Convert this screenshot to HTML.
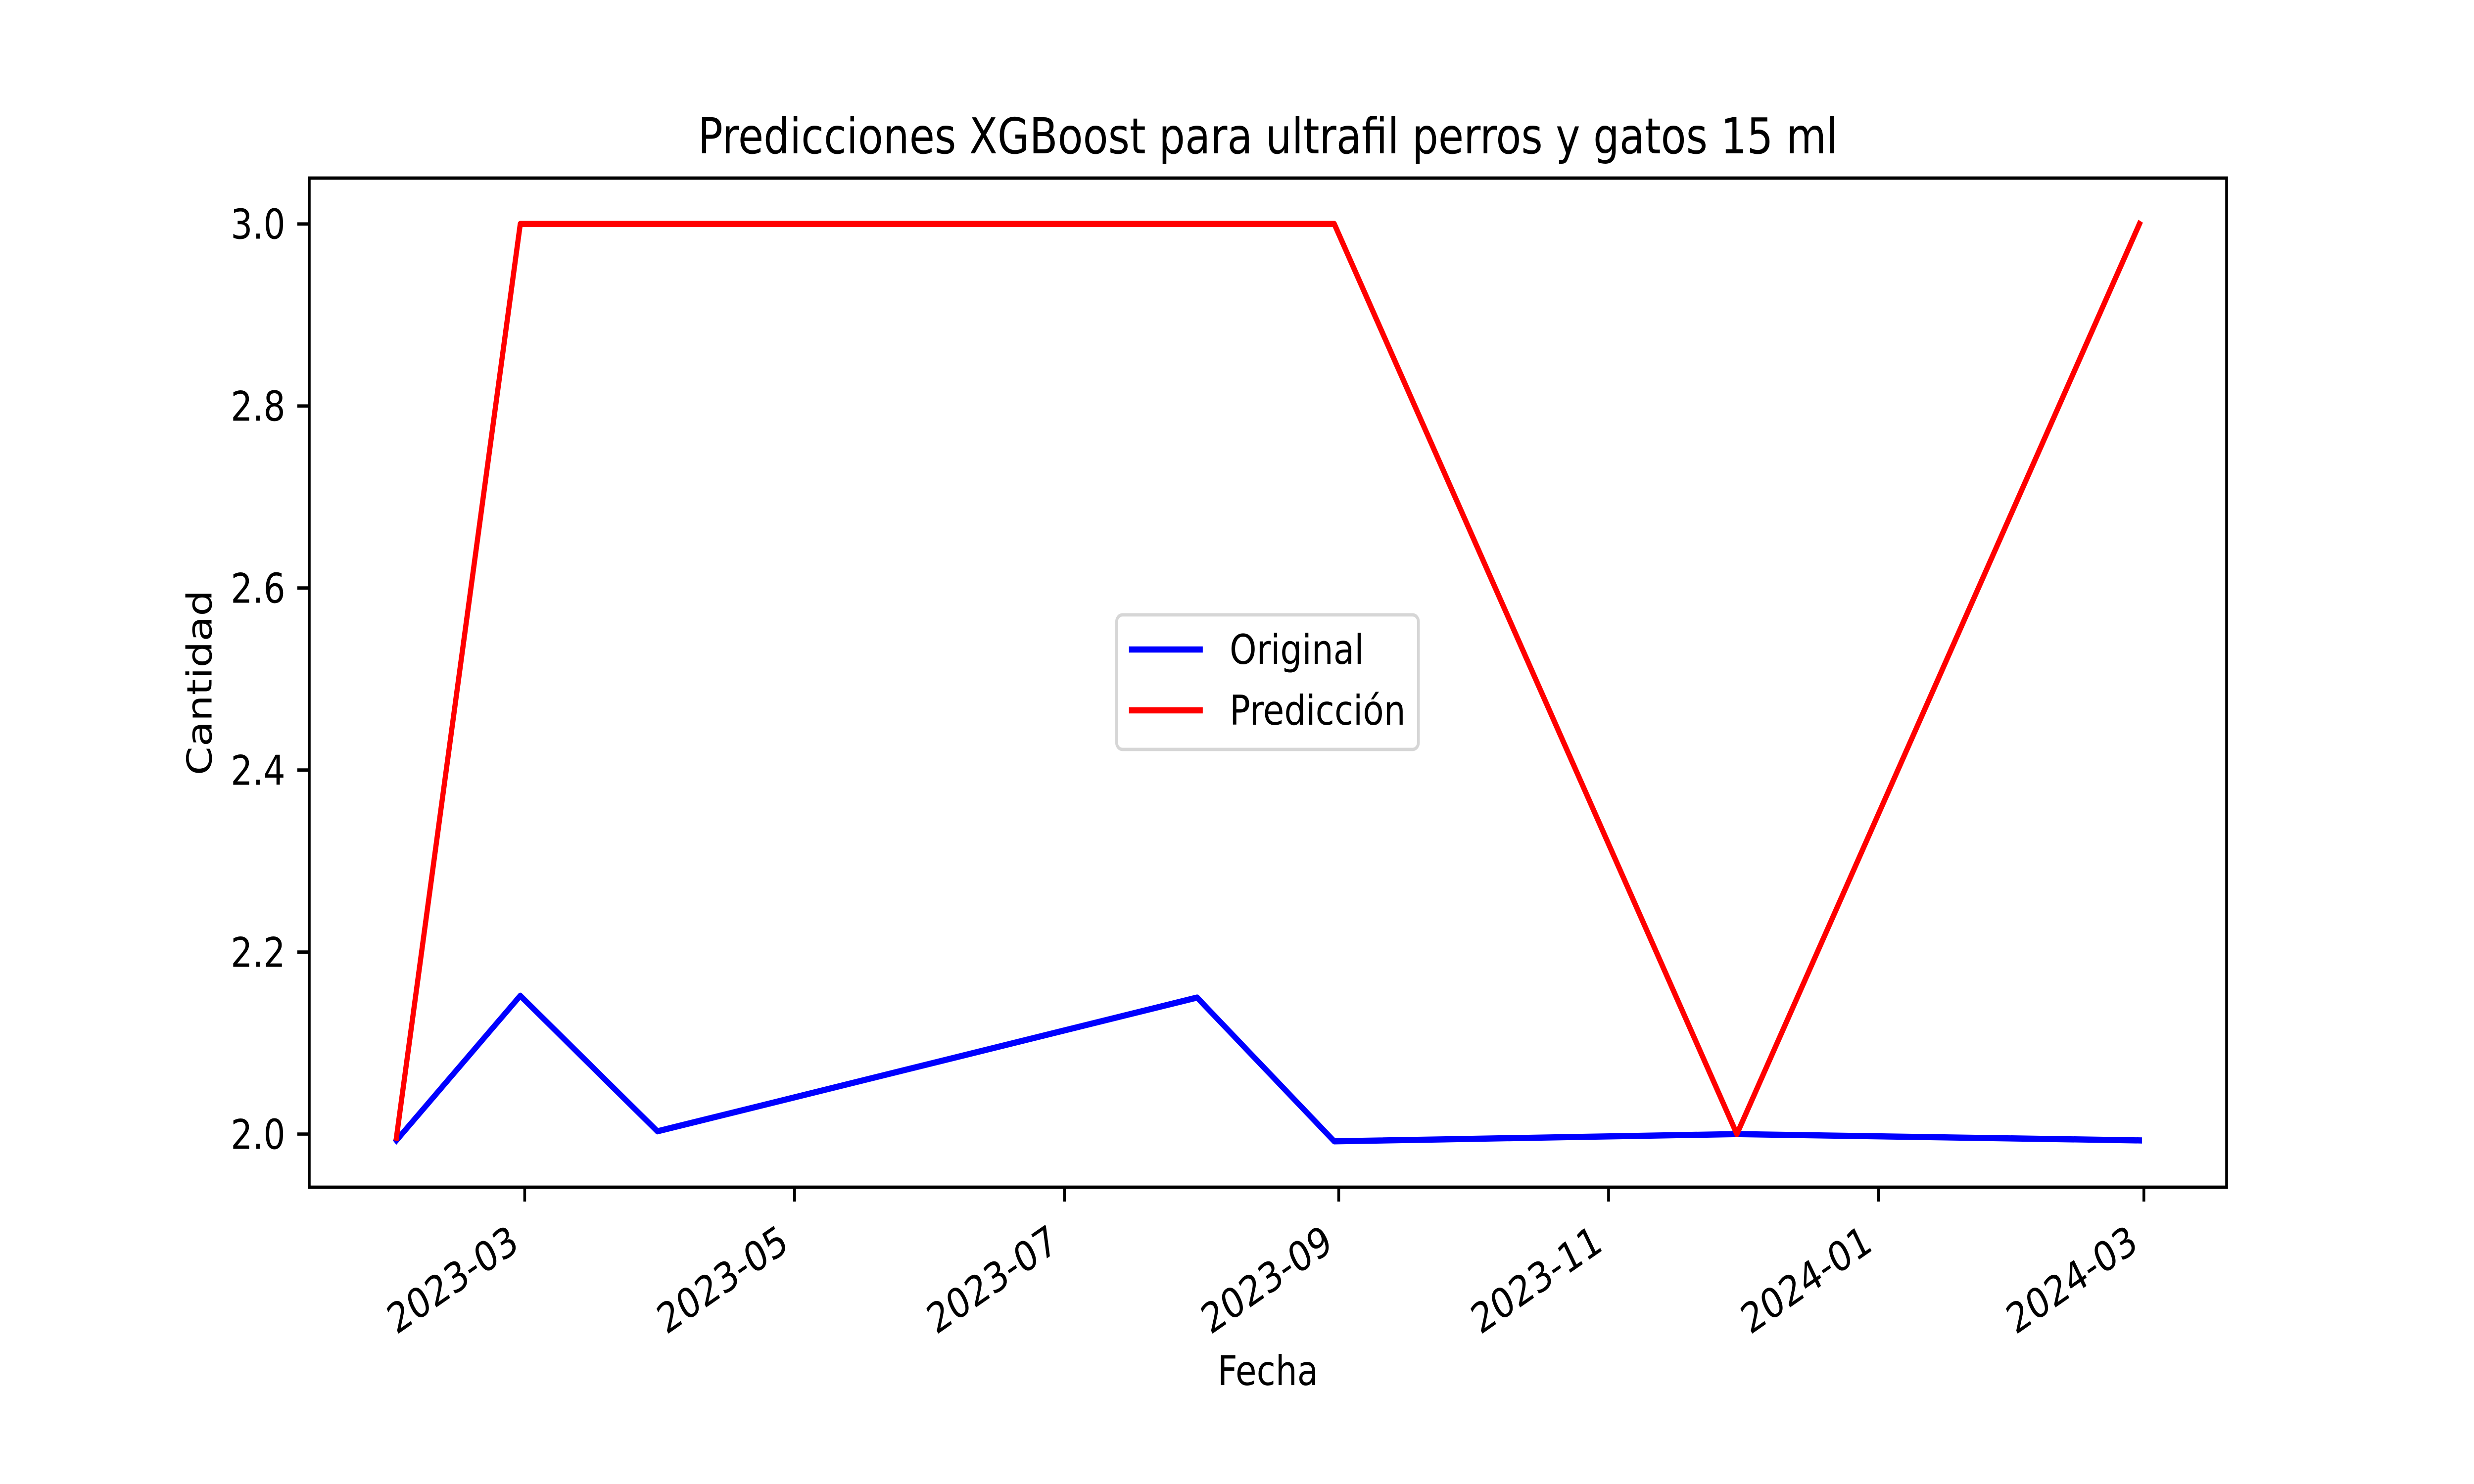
<!DOCTYPE html>
<html><head><meta charset="utf-8"><style>
html,body{margin:0;padding:0;background:#fff;width:100%;height:100%;overflow:hidden;}
svg{display:block;width:100vw;height:100vh;font-family:"DejaVu Sans","Liberation Sans",sans-serif;}
</style></head><body>
<svg id="chart" viewBox="0 0 6000 3000" preserveAspectRatio="none" xmlns="http://www.w3.org/2000/svg">
<rect x="0" y="0" width="6000" height="3000" fill="#fff"/>
<text x="3075" y="310" font-size="100" text-anchor="middle">Predicciones XGBoost para ultrafil perros y gatos 15 ml</text>
<text x="3075" y="2800" font-size="83.3" text-anchor="middle">Fecha</text>
<text transform="translate(513,1380) rotate(-90)" font-size="83.3" text-anchor="middle">Cantidad</text>
<g id="plot"></g>
<g id="legend">
  <rect x="2708" y="1243" width="732" height="272" rx="14" fill="#fff" fill-opacity="0.8" stroke="#d6d6d6" stroke-width="6.7"/>
  <line x1="2738" y1="1313" x2="2917" y2="1313" stroke="#0000ff" stroke-width="12.5"/>
  <text x="2982" y="1342" font-size="83.3">Original</text>
  <line x1="2738" y1="1436" x2="2917" y2="1436" stroke="#ff0000" stroke-width="12.5"/>
  <text x="2982" y="1465" font-size="83.3">Predicción</text>
</g>
</svg>
<script>
const dates = ["2023-01-31","2023-02-28","2023-03-31","2023-07-31","2023-08-31","2023-11-30","2024-02-29"];
const originalValues = [1.993, 2.152, 2.003, 2.150, 1.992, 2.000, 1.993];
const predictionValues = [1.996, 3.0, 3.0, 3.0, 3.0, 2.0, 3.0];
const xTickLabels = ["2023-03","2023-05","2023-07","2023-09","2023-11","2024-01","2024-03"];
const yTickValues = [2.0, 2.2, 2.4, 2.6, 2.8, 3.0];

const NS = "http://www.w3.org/2000/svg";
const L = 750, R = 5400, T = 360, B = 2400;
const t = s => Date.parse(s + "T00:00:00Z");
const tMin = Math.min(...dates.map(t)), tMax = Math.max(...dates.map(t));
const allV = originalValues.concat(predictionValues);
const vMin = Math.min(...allV), vMax = Math.max(...allV);
const xLo = tMin - (tMax - tMin) * 0.05, xHi = tMax + (tMax - tMin) * 0.05;
const yLo = vMin - (vMax - vMin) * 0.05, yHi = vMax + (vMax - vMin) * 0.05;
const xs = ms => L + (ms - xLo) / (xHi - xLo) * (R - L);
const ys = v => B - (v - yLo) / (yHi - yLo) * (B - T);

const plot = document.getElementById("plot");
function mk(tag, attrs) { const e = document.createElementNS(NS, tag); for (const k in attrs) e.setAttribute(k, attrs[k]); return e; }

function series(vals, color, name) {
  const pts = vals.map((v, i) => xs(t(dates[i])).toFixed(1) + "," + ys(v).toFixed(1)).join(" ");
  const pl = mk("polyline", {points: pts, fill: "none", stroke: color, "stroke-width": 12.5, "stroke-linejoin": "round", "stroke-linecap": "square"});
  
  
  plot.appendChild(pl);
}
series(originalValues, "#0000ff", "series-original");
series(predictionValues, "#ff0000", "series-prediccion");

const frame = mk("rect", {x: L, y: T, width: R - L, height: B - T, fill: "none", stroke: "#000", "stroke-width": 6.7});


plot.appendChild(frame);

yTickValues.forEach(v => {
  const y = ys(v);
  const tk = mk("line", {x1: L - 29, y1: y, x2: L, y2: y, stroke: "#000", "stroke-width": 6.7});
  
  
  plot.appendChild(tk);
  const tx = mk("text", {x: 692, y: y + 30, "font-size": 83.3, "text-anchor": "end"});
  tx.textContent = v.toFixed(1);
  
  
  plot.appendChild(tx);
});

xTickLabels.forEach(lbl => {
  const x = xs(t(lbl + "-01"));
  const tk = mk("line", {x1: x, y1: B, x2: x, y2: B + 29, stroke: "#000", "stroke-width": 6.7});
  
  
  plot.appendChild(tk);
  const tx = mk("text", {"font-size": 83.3, "text-anchor": "end", transform: "translate(" + (x - 10).toFixed(1) + ",2525) rotate(-30)"});
  tx.textContent = lbl;
  
  
  plot.appendChild(tx);
});
</script>
</body></html>
